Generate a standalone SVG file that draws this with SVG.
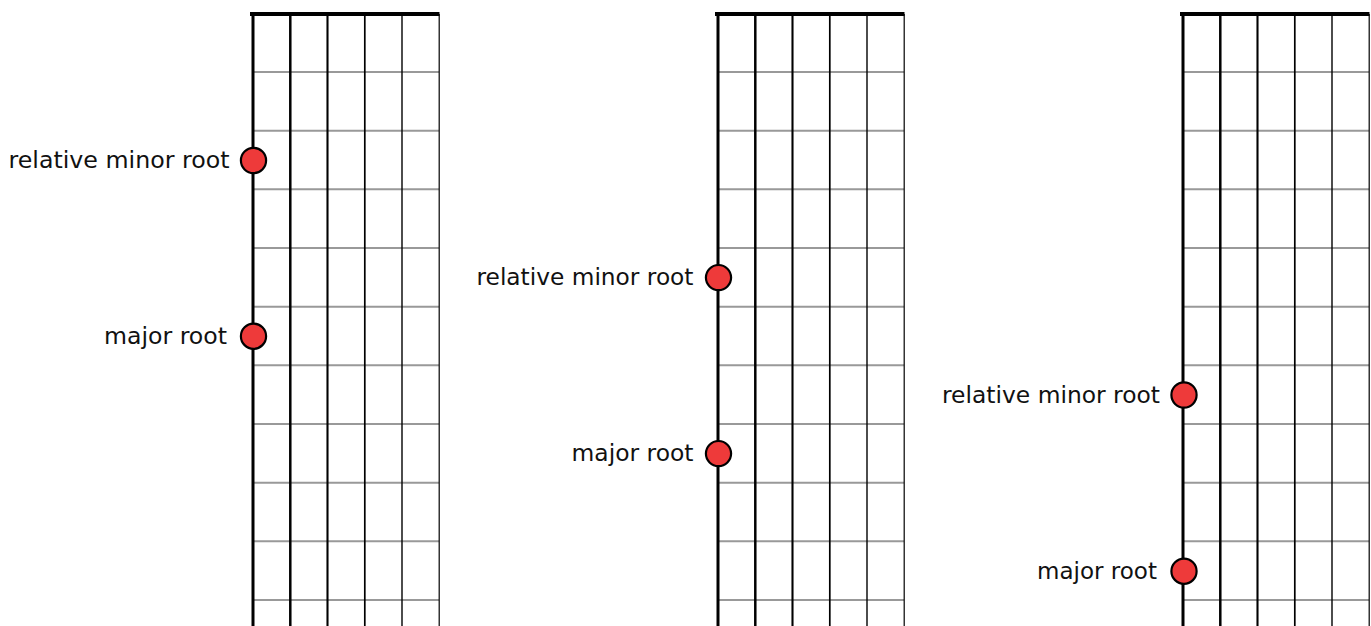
<svg xmlns="http://www.w3.org/2000/svg" xmlns:xlink="http://www.w3.org/1999/xlink" width="1371" height="626" viewBox="0 0 1371 626">
<style>
.fret{stroke:#999;stroke-width:2;fill:none}
.str{stroke:#000;fill:none}
.nut{fill:#000}
.dot{fill:#ee3a3a;stroke:#000;stroke-width:2.2}
.lbl{font-family:"DejaVu Sans","Liberation Sans",sans-serif;font-size:23.5px;fill:#111;text-anchor:end}
</style>
<defs>
<g id="board">
<g class="frets">
<line class="fret" x1="253" y1="72" x2="439" y2="72"/>
<line class="fret" x1="253" y1="130.7" x2="439" y2="130.7"/>
<line class="fret" x1="253" y1="189.3" x2="439" y2="189.3"/>
<line class="fret" x1="253" y1="248" x2="439" y2="248"/>
<line class="fret" x1="253" y1="306.7" x2="439" y2="306.7"/>
<line class="fret" x1="253" y1="365.3" x2="439" y2="365.3"/>
<line class="fret" x1="253" y1="424" x2="439" y2="424"/>
<line class="fret" x1="253" y1="482.7" x2="439" y2="482.7"/>
<line class="fret" x1="253" y1="541.3" x2="439" y2="541.3"/>
<line class="fret" x1="253" y1="600" x2="439" y2="600"/>
</g>
<g class="strings">
<line class="str" x1="253" y1="14" x2="253" y2="626" stroke-width="3"/>
<line class="str" x1="290.3" y1="14" x2="290.3" y2="626" stroke-width="2.5"/>
<line class="str" x1="327.5" y1="14" x2="327.5" y2="626" stroke-width="2.1"/>
<line class="str" x1="364.8" y1="14" x2="364.8" y2="626" stroke-width="1.7"/>
<line class="str" x1="402" y1="14" x2="402" y2="626" stroke-width="1.4" stroke="#222"/>
<line class="str" x1="439.2" y1="14" x2="439.2" y2="626" stroke-width="1.2" stroke="#444"/>
</g>
<rect class="nut" x="250" y="12" width="189.5" height="4"/>
</g>
</defs>

<g id="fretboard-1"><use xlink:href="#board"/></g>
<g id="fretboard-2"><use xlink:href="#board" transform="translate(465,0)"/></g>
<g id="fretboard-3"><use xlink:href="#board" transform="translate(930,0)"/></g>

<g id="connectors"></g>

<g id="b1-minor">
<circle class="dot" cx="253.5" cy="160.5" r="12.6"/>
<text class="lbl" x="229.5" y="168" textLength="221" lengthAdjust="spacingAndGlyphs">relative minor root</text>
</g>
<g id="b1-major">
<circle class="dot" cx="253.5" cy="336.2" r="12.6"/>
<text class="lbl" x="227" y="343.7" textLength="123" lengthAdjust="spacingAndGlyphs">major root</text>
</g>
<g id="b2-minor">
<circle class="dot" cx="718.5" cy="277.6" r="12.6"/>
<text class="lbl" x="693.5" y="285.2" textLength="217" lengthAdjust="spacingAndGlyphs">relative minor root</text>
</g>
<g id="b2-major">
<circle class="dot" cx="718.5" cy="453.6" r="12.6"/>
<text class="lbl" x="693.5" y="461.2" textLength="122" lengthAdjust="spacingAndGlyphs">major root</text>
</g>
<g id="b3-minor">
<circle class="dot" cx="1184" cy="395" r="12.6"/>
<text class="lbl" x="1160" y="402.5" textLength="218" lengthAdjust="spacingAndGlyphs">relative minor root</text>
</g>
<g id="b3-major">
<circle class="dot" cx="1184" cy="571.2" r="12.6"/>
<text class="lbl" x="1157" y="578.7" textLength="120" lengthAdjust="spacingAndGlyphs">major root</text>
</g>
</svg>
